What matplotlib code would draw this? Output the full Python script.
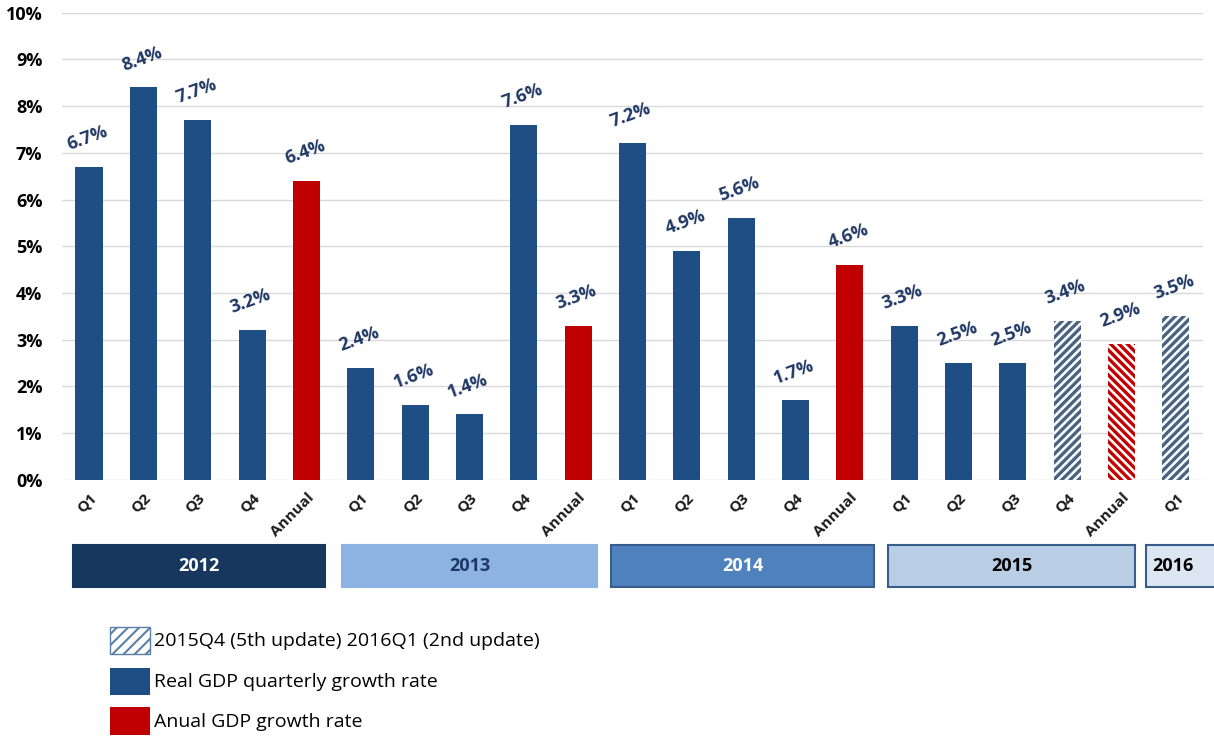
import matplotlib
matplotlib.use('Agg')
import matplotlib.pyplot as plt
from matplotlib.patches import Rectangle
from matplotlib.transforms import blended_transform_factory

plt.rcParams['font.family'] = ['Open Sans', 'DejaVu Sans']

ticks = ['Q1', 'Q2', 'Q3', 'Q4', 'Annual',
         'Q1', 'Q2', 'Q3', 'Q4', 'Annual',
         'Q1', 'Q2', 'Q3', 'Q4', 'Annual',
         'Q1', 'Q2', 'Q3', 'Q4', 'Annual',
         'Q1']
values = [6.7, 8.4, 7.7, 3.2, 6.4,
          2.4, 1.6, 1.4, 7.6, 3.3,
          7.2, 4.9, 5.6, 1.7, 4.6,
          3.3, 2.5, 2.5, 3.4, 2.9,
          3.5]
hatched = [18, 19, 20]
years = ['2012', '2013', '2014', '2015', '2016']
year_spans = [(-0.3, 4.35), (4.65, 9.35), (9.6, 14.45), (14.7, 19.25), (19.45, 21.0)]
year_face = ['#17375e', '#8db3e2', '#4f81bd', '#b9cde5', '#dce6f2']
year_edge = ['#17375e', '#8db3e2', '#385d8a', '#385d8a', '#385d8a']
year_text = ['white', '#1f3864', 'white', 'black', 'black']
legend_labels = ['2015Q4 (5th update) 2016Q1 (2nd update)',
                 'Real GDP quarterly growth rate',
                 'Anual GDP growth rate']

blue = '#1f4e85'
red = '#c00000'
hatch_blue = '#4a6382'

fig = plt.figure(figsize=(12.14, 7.45), dpi=100)
ax = fig.add_axes([0.051, 0.356, 0.94, 0.627])

x = list(range(len(values)))
for i, v in enumerate(values):
    annual = ticks[i] == 'Annual'
    if i in hatched:
        ec = red if annual else hatch_blue
        plt.rcParams['hatch.linewidth'] = 2.4
        ax.bar(i, v, width=0.5, color='white', edgecolor=ec, hatch='\\\\\\\\' if annual else '////',
               linewidth=0, zorder=3)
    else:
        ax.bar(i, v, width=0.5, color=red if annual else blue, zorder=3)
    ax.text(i - 0.03, v + 0.28, '%.1f%%' % v, ha='center', va='bottom', rotation=20,
            fontsize=13, fontweight='bold', color='#1f3864')

ax.set_xlim(-0.5, 20.5)
ax.set_ylim(0, 10)
ax.set_yticks(range(0, 11))
ax.set_yticklabels(['%d%%' % t for t in range(0, 11)], fontsize=13, fontweight='bold')
ax.set_xticks(x)
ax.set_xticklabels(ticks, rotation=45, ha='right', rotation_mode='anchor',
                   fontsize=11, fontweight='bold', color='#1a1a1a')
ax.tick_params(length=0)
ax.tick_params(axis='x', pad=8)
ax.tick_params(axis='y', pad=14)
ax.grid(axis='y', color='#d9d9d9', linewidth=1, zorder=0)
for s in ax.spines.values():
    s.set_visible(False)

tr = blended_transform_factory(ax.transData, ax.transAxes)
for yr, (a, b), fc, ec, tc in zip(years, year_spans, year_face, year_edge, year_text):
    ax.add_patch(Rectangle((a, -0.229), b - a, 0.089, transform=tr, facecolor=fc,
                           edgecolor=ec, linewidth=1.5, clip_on=False))
    cx = (a + b) / 2 if yr != '2016' else 19.95
    ax.text(cx, -0.184, yr, transform=tr, ha='center', va='center', fontsize=13,
            fontweight='bold', color=tc)

ys = [0.122, 0.067, 0.0134]
for k, (lab, y0) in enumerate(zip(legend_labels, ys)):
    if k == 0:
        plt.rcParams['hatch.linewidth'] = 1.5
        p = Rectangle((0.0906, y0), 0.033, 0.036, transform=fig.transFigure,
                      facecolor='white', edgecolor='#5b7fa6', hatch='///', linewidth=1)
    else:
        p = Rectangle((0.0906, y0), 0.033, 0.037, transform=fig.transFigure,
                      facecolor=blue if k == 1 else red, edgecolor='none')
    fig.patches.append(p)
    fig.text(0.127, y0 + 0.018, lab, ha='left', va='center', fontsize=14)

fig.savefig('out.png', dpi=100)
